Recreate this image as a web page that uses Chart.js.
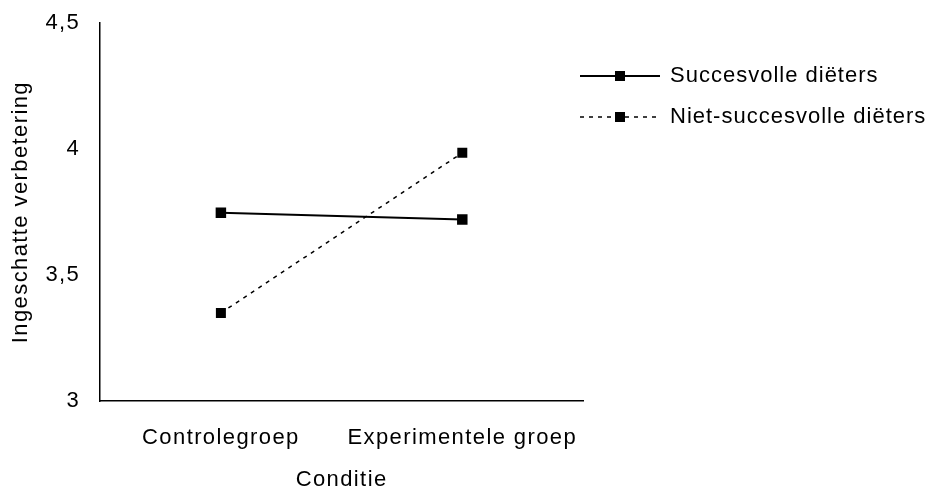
<!DOCTYPE html>
<html>
<head>
<meta charset="utf-8">
<script src="https://cdn.jsdelivr.net/npm/chart.js@4/dist/chart.umd.min.js"></script>
<style>
  html, body { margin: 0; padding: 0; background: #fff; }
  #wrap { width: 931px; height: 489px; }
</style>
</head>
<body>
<div id="wrap"><canvas id="chart"></canvas></div>
<script>
const categories = ["Controlegroep", "Experimentele groep"];
const succesvolle = [3.747, 3.721];
const nietSuccesvolle = [3.350, 3.985];
const seriesNames = ["Succesvolle diëters", "Niet-succesvolle diëters"];
const yTicks = [3, 3.5, 4, 4.5];

const fontFamily = "'Liberation Sans', Arial, sans-serif";
const fontSize = 22;

// the original text is set a bit wider than the font
const wideText = {
    id: "wideText",
    beforeLayout(chart) { chart.ctx.letterSpacing = "1.4px"; },
    beforeDraw(chart) { chart.ctx.letterSpacing = "1.4px"; },
};

// legend drawn to the right, line + square marker like the original
const sideLegend = {
    id: "sideLegend",
    afterDraw(chart) {
        const ctx = chart.ctx;
        const x0 = 580, x1 = 660, textX = 670;
        const rows = [76, 117];
        ctx.save();
        chart.data.datasets.forEach((ds, i) => {
            const y = rows[i];
            ctx.strokeStyle = "#000";
            ctx.lineWidth = ds.borderWidth;
            ctx.setLineDash(ds.borderDash || []);
            ctx.beginPath();
            ctx.moveTo(x0, y);
            ctx.lineTo(x1, y);
            ctx.stroke();
            ctx.setLineDash([]);
            ctx.fillStyle = "#000";
            ctx.fillRect((x0 + x1) / 2 - 5, y - 5, 10, 10);
            ctx.font = fontSize + "px " + fontFamily;
            ctx.letterSpacing = "1px";
            ctx.textBaseline = "middle";
            ctx.fillText(ds.label, textX, y);
        });
        ctx.restore();
    }
};

const ctx = document.getElementById("chart").getContext("2d");
let myChart = new Chart(ctx, {
    type: "line",
    data: {
        labels: categories,
        datasets: [{
            label: seriesNames[0],
            data: succesvolle,
            borderColor: "#000",
            backgroundColor: "#000",
            borderWidth: 2,
            pointStyle: "rect",
            pointRadius: 6,
            pointHoverRadius: 6,
            tension: 0,
        }, {
            label: seriesNames[1],
            data: nietSuccesvolle,
            borderColor: "#000",
            backgroundColor: "#000",
            borderWidth: 1.5,
            borderDash: [4, 5],
            pointStyle: "rect",
            pointRadius: 6,
            pointHoverRadius: 6,
            tension: 0,
        }],
    },
    options: {
        responsive: true,
        maintainAspectRatio: false,
        animation: false,
        layout: { autoPadding: false, padding: { left: 4, top: 23, right: 348, bottom: -4 } },
        plugins: {
            legend: { display: false },
            tooltip: { enabled: false },
        },
        scales: {
            x: {
                offset: true,
                grid: { display: false, drawTicks: false },
                border: { color: "#000", width: 1.5 },
                ticks: { color: "#000", font: { family: fontFamily, size: fontSize }, padding: 24 },
                title: { display: true, text: "Conditie", color: "#000", font: { family: fontFamily, size: fontSize }, padding: { top: -9, bottom: 0 } },
            },
            y: {
                min: 3,
                max: 4.5,
                afterBuildTicks: axis => { axis.ticks = yTicks.map(v => ({ value: v })); },
                afterFit: axis => { axis.paddingTop = 0; axis.paddingBottom = 0; },
                grid: { display: false, drawTicks: false },
                border: { color: "#000", width: 1.5 },
                ticks: {
                    color: "#000",
                    font: { family: fontFamily, size: fontSize },
                    padding: 20,
                    callback: v => String(v).replace(".", ","),
                },
                title: { display: true, text: "Ingeschatte verbetering", color: "#000", font: { family: fontFamily, size: fontSize }, padding: { top: 4, bottom: -9 } },
            },
        },
    },
    plugins: [wideText, sideLegend],
});
</script>
</body>
</html>
